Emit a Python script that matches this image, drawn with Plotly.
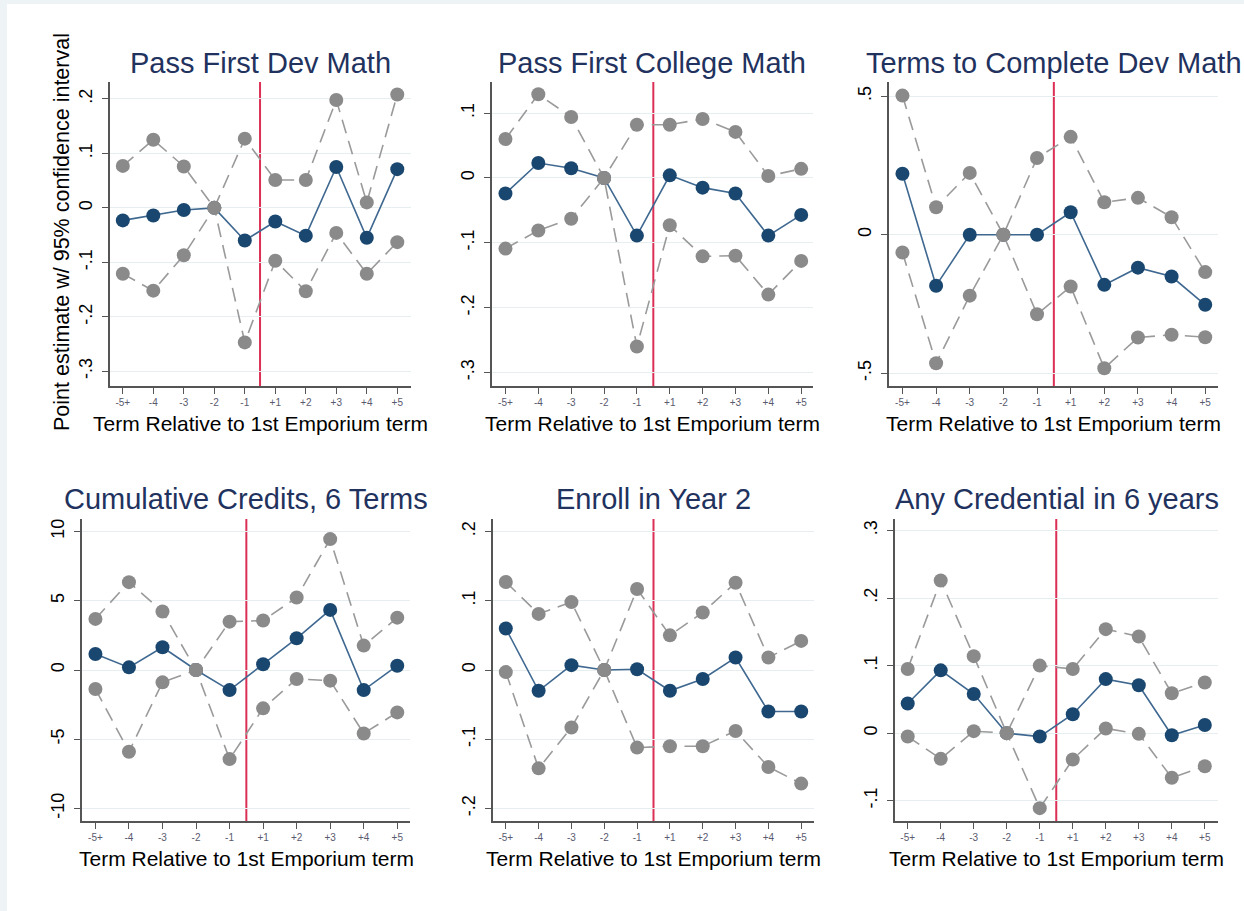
import plotly.graph_objects as go

W, H = 1244, 911

terms = ["-5+", "-4", "-3", "-2", "-1", "+1", "+2", "+3", "+4", "+5"]

titles = ["Pass First Dev Math", "Pass First College Math", "Terms to Complete Dev Math",
          "Cumulative Credits, 6 Terms", "Enroll in Year 2", "Any Credential in 6 years"]

# point estimates
est_dev_math = [-0.023, -0.014, -0.004, 0.0, -0.060, -0.025, -0.051, 0.075, -0.055, 0.071]
est_coll_math = [-0.024, 0.023, 0.015, 0.0, -0.089, 0.004, -0.015, -0.024, -0.089, -0.057]
est_terms = [0.220, -0.184, 0.0, 0.0, 0.0, 0.081, -0.181, -0.119, -0.151, -0.253]
est_credits = [1.16, 0.19, 1.64, 0.0, -1.45, 0.41, 2.29, 4.34, -1.45, 0.31]
est_enroll = [0.060, -0.030, 0.007, 0.0, 0.001, -0.030, -0.013, 0.018, -0.060, -0.060]
est_cred = [0.044, 0.093, 0.058, 0.0, -0.005, 0.028, 0.080, 0.071, -0.003, 0.012]

# upper bounds of 95% CI
ub_dev_math = [0.077, 0.125, 0.076, 0.0, 0.127, 0.051, 0.051, 0.198, 0.010, 0.208]
ub_coll_math = [0.060, 0.129, 0.094, 0.0, 0.082, 0.082, 0.091, 0.071, 0.003, 0.014]
ub_terms = [0.502, 0.099, 0.223, 0.0, 0.277, 0.353, 0.117, 0.133, 0.063, -0.135]
ub_credits = [3.69, 6.34, 4.22, 0.0, 3.49, 3.57, 5.23, 9.45, 1.76, 3.78]
ub_enroll = [0.127, 0.081, 0.098, 0.0, 0.117, 0.050, 0.083, 0.126, 0.018, 0.042]
ub_cred = [0.095, 0.226, 0.114, 0.0, 0.100, 0.095, 0.154, 0.143, 0.059, 0.075]

# lower bounds of 95% CI
lb_dev_math = [-0.121, -0.152, -0.087, 0.0, -0.247, -0.097, -0.153, -0.046, -0.121, -0.063]
lb_coll_math = [-0.109, -0.081, -0.063, 0.0, -0.260, -0.073, -0.121, -0.120, -0.180, -0.128]
lb_terms = [-0.064, -0.464, -0.220, 0.0, -0.287, -0.187, -0.482, -0.371, -0.361, -0.370]
lb_credits = [-1.37, -5.90, -0.89, 0.0, -6.43, -2.77, -0.65, -0.77, -4.58, -3.06]
lb_enroll = [-0.003, -0.142, -0.083, 0.0, -0.112, -0.110, -0.110, -0.088, -0.140, -0.164]
lb_cred = [-0.005, -0.038, 0.003, 0.0, -0.111, -0.039, 0.007, -0.001, -0.066, -0.049]

ytick_vals = [[0.2, 0.1, 0, -0.1, -0.2, -0.3], [0.1, 0, -0.1, -0.2, -0.3], [0.5, 0, -0.5],
              [10, 5, 0, -5, -10], [0.2, 0.1, 0, -0.1, -0.2], [0.3, 0.2, 0.1, 0, -0.1]]
ytick_text = [[".2", ".1", "0", "-.1", "-.2", "-.3"], [".1", "0", "-.1", "-.2", "-.3"], [".5", "0", "-.5"],
              ["10", "5", "0", "-5", "-10"], [".2", ".1", "0", "-.1", "-.2"], [".3", ".2", ".1", "0", "-.1"]]

ests = [est_dev_math, est_coll_math, est_terms, est_credits, est_enroll, est_cred]
ubs = [ub_dev_math, ub_coll_math, ub_terms, ub_credits, ub_enroll, ub_cred]
lbs = [lb_dev_math, lb_coll_math, lb_terms, lb_credits, lb_enroll, lb_cred]

# layout geometry (pixels)
xpix = [(110, 411), (492, 813), (889, 1218), (82, 410), (493, 814), (895, 1218)]
ypix = [(82, 386)] * 3 + [(519, 821)] * 3
yranges = [(-0.327, 0.231), (-0.321, 0.148), (-0.546, 0.551), (-10.9, 10.9), (-0.218, 0.218), (-0.130, 0.317)]
xranges = [(-0.42, 9.45), (-0.41, 9.36), (-0.40, 9.38), (-0.40, 9.38), (-0.39, 9.39), (-0.385, 9.40)]
title_y = [63, 63, 63, 499, 499, 499]
xtitle_y = [423, 423, 423, 858, 858, 858]

NAVY = "#1a476f"
NAVY_LINE = "#3f6890"
GRAY = "#8a8a8a"
GRAY_LINE = "#9a9a9a"
RED = "#dc2f55"
FONT = "Liberation Sans, Arial, sans-serif"

x_idx = list(range(len(terms)))

fig = go.Figure()
layout = dict(
    width=W, height=H, margin=dict(l=0, r=0, t=0, b=0),
    paper_bgcolor="#eef3f6", plot_bgcolor="white", showlegend=False,
    font=dict(family=FONT, color="black"),
)
annotations = []
shapes = [dict(type="rect", xref="paper", yref="paper", x0=7 / W, x1=1.01, y0=-0.01, y1=1 - 4 / H,
               fillcolor="white", line=dict(width=0), layer="below")]

for i in range(6):
    n = "" if i == 0 else str(i + 1)
    xa, ya = "x" + n, "y" + n
    dx = [xpix[i][0] / W, xpix[i][1] / W]
    dy = [1 - ypix[i][1] / H, 1 - ypix[i][0] / H]
    layout["xaxis" + n] = dict(
        domain=dx, anchor=ya, range=list(xranges[i]), tickmode="array", tickvals=x_idx, ticktext=terms,
        showgrid=False, zeroline=False, showline=True, linecolor="#555555", linewidth=1.5,
        ticks="outside", ticklen=6, tickcolor="#555555", tickwidth=1,
        tickfont=dict(size=10, color="#5a5a6e", family=FONT), automargin=False,
    )
    layout["yaxis" + n] = dict(
        domain=dy, anchor=xa, range=list(yranges[i]), tickmode="array", tickvals=ytick_vals[i],
        ticktext=ytick_text[i], tickangle=-90, showgrid=True, gridcolor="#e6eef0", gridwidth=1,
        zeroline=False, showline=True, linecolor="#555555", linewidth=1.5,
        ticks="outside", ticklen=6, tickcolor="#555555", tickwidth=1, ticklabelstandoff=3,
        tickfont=dict(size=18, color="black", family=FONT), automargin=False,
    )
    fig.add_trace(go.Scatter(
        x=x_idx, y=ests[i], mode="lines+markers", xaxis=xa, yaxis=ya,
        line=dict(color=NAVY_LINE, width=1.6),
        marker=dict(symbol="circle", size=14, color=NAVY, line=dict(width=0)),
    ))
    for band in (ubs[i], lbs[i]):
        fig.add_trace(go.Scatter(
            x=x_idx, y=band, mode="lines+markers", xaxis=xa, yaxis=ya,
            line=dict(color=GRAY_LINE, width=1.6, dash="14px,8px"),
            marker=dict(symbol="circle", size=14, color=GRAY, line=dict(width=0)),
        ))
    shapes.append(dict(type="line", xref=xa, yref=ya + " domain", x0=4.5, x1=4.5, y0=0, y1=1,
                       line=dict(color=RED, width=2), layer="below"))
    cx = (dx[0] + dx[1]) / 2
    annotations.append(dict(text=titles[i], x=cx, y=1 - title_y[i] / H, xref="paper", yref="paper",
                            showarrow=False, xanchor="center", yanchor="middle",
                            font=dict(size=29, color="#22325e", family=FONT)))
    annotations.append(dict(text="Term Relative to 1st Emporium term", x=cx, y=1 - xtitle_y[i] / H,
                            xref="paper", yref="paper", showarrow=False, xanchor="center", yanchor="middle",
                            font=dict(size=21, color="black", family=FONT)))

annotations.append(dict(text="Point estimate w/ 95% confidence interval", x=62 / W, y=1 - 232 / H,
                        xref="paper", yref="paper", showarrow=False, textangle=-90,
                        xanchor="center", yanchor="middle", font=dict(size=21.5, color="black", family=FONT)))

layout["annotations"] = annotations
layout["shapes"] = shapes
fig.update_layout(**layout)

fig.write_html("out.html", config={"displayModeBar": False},
               post_script="document.body.style.margin='0';document.body.style.overflow='hidden';")
